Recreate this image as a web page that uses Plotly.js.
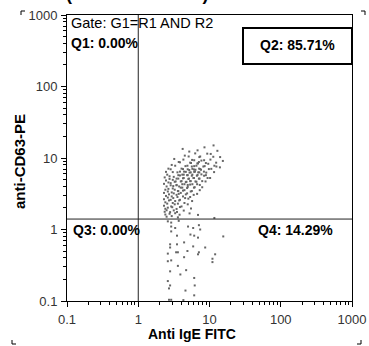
<!DOCTYPE html>
<html><head><meta charset="utf-8">
<script src="https://cdn.plot.ly/plotly-3.0.1.min.js"></script>
<style>html,body{margin:0;padding:0;background:#fff;}#plot{width:369px;height:346px;}</style>
</head><body><div id="plot"></div>
<script>
// Events above the horizontal gate (Q2)
const upperX = [11.4,4.2,6.8,8.5,5.2,9.3,12.9,4.5,6.3,7.4,10.4,14.1,
3.2,5.1,5.7,7.2,8.4,11.3,15.4,
3.7,4.3,5.5,6.1,6.9,7.7,9.6,10.3,12.4,
2.95,3.85,4.9,5.35,6.1,6.75,7.1,8.2,8.9,11.7,14.0,
2.65,3.3,4.25,4.6,5.2,5.65,6.05,6.55,7.15,7.6,8.55,9.8,12.5,
2.45,2.85,3.55,4.05,4.4,4.95,5.25,5.75,6.1,6.35,6.95,7.4,8.35,9.0,10.6,
2.55,3.05,3.65,3.85,4.35,4.65,4.95,5.45,5.75,6.25,6.65,7.2,7.7,8.9,11.6,
2.35,2.75,3.15,3.45,3.85,4.15,4.35,4.85,5.15,5.65,6.05,6.8,7.25,8.4,10.2,
2.45,2.75,3.05,3.35,3.65,4.05,4.25,4.75,5.05,5.45,5.95,6.35,7.1,7.9,9.4,
2.3,2.65,2.85,3.25,3.45,3.95,4.15,4.65,4.95,5.35,5.75,6.55,7.3,8.8,
2.5,2.85,3.1,3.45,3.75,4.15,4.45,4.95,5.35,6.05,6.7,7.9,
2.4,2.65,3.05,3.25,3.65,3.95,4.45,4.85,5.65,6.2,7.3,
2.3,2.6,2.95,3.15,3.6,3.95,4.25,4.85,5.45,6.7,
2.45,2.7,2.95,3.45,3.7,4.25,4.65,5.35,6.0,
2.3,2.6,2.85,3.1,3.55,3.85,4.55,5.05,
2.4,2.7,3.05,3.3,3.75,4.45,5.7,
2.3,2.55,2.9,3.25,3.6,4.05,4.95,
2.4,2.6,3.0,3.45,3.85,5.5,
2.35,2.5,2.8,3.15,3.5,4.35,
2.4,2.75,3.3,3.8,5.25,6.9,
2.5,2.95,3.6,11.7];
const upperY = [15.0,13.4,12.8,14.1,12.3,11.5,12.6,10.8,11.6,10.5,11.4,10.3,
9.7,10.5,9.4,10.3,9.3,10.4,9.1,
8.8,9.5,8.5,9.3,8.4,9.2,8.3,9.5,8.6,
8.0,8.7,7.8,8.6,7.7,8.4,8.8,7.6,8.5,7.8,7.4,
7.1,7.8,7.0,7.7,6.8,7.6,6.9,7.8,7.1,6.85,7.7,7.0,7.6,
6.4,6.95,6.3,7.1,6.45,6.95,6.25,7.05,6.4,6.85,6.3,7.0,6.45,6.25,7.05,
5.85,6.35,5.75,6.45,5.85,6.4,5.75,6.3,5.85,6.45,5.65,6.3,5.9,5.75,6.35,
5.35,5.55,5.45,5.15,5.7,5.85,5.25,5.75,5.15,5.65,5.25,5.8,5.15,5.65,5.25,
4.85,5.1,4.95,4.7,5.15,4.75,5.2,4.65,5.1,4.75,5.25,4.7,5.15,4.75,5.25,
4.35,4.55,4.45,4.65,4.2,4.7,4.3,4.6,4.2,4.75,4.3,4.65,4.2,4.7,
4.0,4.15,4.05,4.15,4.0,3.85,4.3,3.95,4.25,3.85,4.3,3.9,
3.6,3.7,3.75,3.6,3.45,3.85,3.55,3.8,3.45,3.9,3.55,
3.25,3.4,3.3,3.2,3.45,3.25,3.5,3.2,3.4,3.15,
2.95,3.1,2.9,3.05,3.15,2.9,3.1,2.85,3.05,
2.65,2.8,2.6,2.75,2.85,2.6,2.75,2.7,
2.4,2.55,2.35,2.5,2.55,2.35,2.5,
2.15,2.3,2.1,2.25,2.3,2.1,2.25,
1.95,2.02,2.05,1.94,2.06,1.97,
1.77,1.86,1.75,1.85,1.76,1.84,
1.62,1.66,1.69,1.61,1.68,1.6,
1.51,1.54,1.48,1.45];
// Events below the horizontal gate (Q4)
const lowerX = [2.6,2.9,3.7,2.9,3.3,5.0,5.9,7.1,7.4,2.9,3.5,5.4,6.1,6.9,15.6,
2.8,2.8,3.5,5.9,8.7,4.4,
2.6,3.4,3.6,6.9,7.1,12.0,
2.6,2.9,4.4,11.0,11.0,4.9,
3.6,4.7,2.8,3.9,
6.1,2.6,2.8,2.7,6.2,4.6,
6.1,2.7,2.9,4.3];
const lowerY = [1.3,1.25,1.32,1.1,1.05,1.1,1.05,1.15,1.0,0.94,0.82,0.85,0.82,0.77,0.8,
0.62,0.56,0.62,0.58,0.56,0.66,
0.46,0.48,0.48,0.45,0.48,0.45,
0.36,0.37,0.41,0.39,0.35,0.5,
0.31,0.27,0.26,0.235,
0.21,0.19,0.165,0.15,0.165,0.14,
0.12,0.104,0.104,0.103];
const gateX = 1;      // vertical quadrant gate
const gateY = 1.4;    // horizontal quadrant gate
const majorTicks = [0.1, 1, 10, 100, 1000];
const majorLabels = ['0.1', '1', '10', '100', '1000'];
const minorTicks = [0.2,0.3,0.4,0.5,0.6,0.7,0.8,0.9,2,3,4,5,6,7,8,9,20,30,40,50,60,70,80,90,200,300,400,500,600,700,800,900];
const quadLabels = ['Q1: 0.00%', 'Q2: 85.71%', 'Q3: 0.00%', 'Q4: 14.29%'];
const gateText = 'Gate: G1=R1 AND R2';

const L=67, R=352, T=15, B=301;
const px = x => (x-L)/(R-L);
const py = y => (B-y)/(B-T);

const marker = {symbol:'square', size:2, color:'#666', line:{width:0}};
const traces = [
  {x:upperX, y:upperY, mode:'markers', type:'scatter', marker:marker, hoverinfo:'skip'},
  {x:lowerX, y:lowerY, mode:'markers', type:'scatter', marker:marker, hoverinfo:'skip'}
];
const axisBase = {
  type:'log', range:[-1,3], showgrid:false, zeroline:false,
  showline:true, linecolor:'#000', linewidth:1, mirror:true,
  ticks:'outside', ticklen:5, tickwidth:1, tickcolor:'#000',
  tickvals:majorTicks, ticktext:majorLabels,
  tickfont:{family:'Liberation Sans, Arial', size:13, color:'#333'},
  minor:{tickvals:minorTicks, ticks:'outside', ticklen:3, tickcolor:'#000', tickwidth:1, showgrid:false}
};
const f = (s,b)=>({family:'Liberation Sans, Arial', size:s, color:'#000', weight: b?'bold':'normal'});
const layout = {
  width:369, height:346, margin:{l:L, r:369-R, t:T, b:346-B},
  paper_bgcolor:'#fff', plot_bgcolor:'#fff', showlegend:false,
  xaxis:Object.assign({}, axisBase, {ticklabelstandoff:1}),
  yaxis:Object.assign({}, axisBase, {ticklabelstandoff:1}),
  shapes:[
    {type:'line', xref:'x', yref:'paper', x0:gateX, x1:gateX, y0:0, y1:1, line:{color:'#222', width:1}},
    {type:'line', xref:'paper', yref:'y', x0:0, x1:1, y0:gateY, y1:gateY, line:{color:'#222', width:1}},
    {type:'rect', xref:'paper', yref:'paper', x0:px(243), x1:px(352), y0:py(64), y1:py(28), line:{color:'#000', width:2}},
    {type:'path', xref:'paper', yref:'paper', path:`M ${px(21)} ${py(15)} L ${px(21)} ${py(11)} L ${px(25)} ${py(11)}`, line:{color:'#000', width:1}},
    {type:'path', xref:'paper', yref:'paper', path:`M ${px(361)} ${py(11)} L ${px(365)} ${py(11)} L ${px(365)} ${py(15)}`, line:{color:'#000', width:1}},
    {type:'path', xref:'paper', yref:'paper', path:`M ${px(12)} ${py(340)} L ${px(12)} ${py(344)} L ${px(16)} ${py(344)}`, line:{color:'#000', width:1}},
    {type:'path', xref:'paper', yref:'paper', path:`M ${px(357)} ${py(344)} L ${px(361)} ${py(344)} L ${px(361)} ${py(340)}`, line:{color:'#000', width:1}}
  ],
  annotations:[
    {text:'(anti-FcεRI mAb)', xref:'paper', yref:'paper', x:px(137), y:py(6), xanchor:'center', yanchor:'bottom', showarrow:false, font:f(18,true)},
    {text:gateText, xref:'paper', yref:'paper', x:px(69), y:py(23), xanchor:'left', yanchor:'middle', showarrow:false, font:f(14.5,false)},
    {text:quadLabels[0], xref:'paper', yref:'paper', x:px(69), y:py(43), xanchor:'left', yanchor:'middle', showarrow:false, font:f(14,true)},
    {text:quadLabels[1], xref:'paper', yref:'paper', x:px(297), y:py(45), xanchor:'center', yanchor:'middle', showarrow:false, font:f(14,true)},
    {text:quadLabels[2], xref:'paper', yref:'paper', x:px(71), y:py(230), xanchor:'left', yanchor:'middle', showarrow:false, font:f(14,true)},
    {text:quadLabels[3], xref:'paper', yref:'paper', x:px(335), y:py(230), xanchor:'right', yanchor:'middle', showarrow:false, font:f(14,true)},
    {text:'Anti IgE FITC', xref:'paper', yref:'paper', x:px(192), y:py(334), xanchor:'center', yanchor:'middle', showarrow:false, font:f(14,true)},
    {text:'anti-CD63-PE', xref:'paper', yref:'paper', x:px(19), y:py(162), xanchor:'center', yanchor:'middle', textangle:-90, showarrow:false, font:f(15,true)}
  ]
};
Plotly.newPlot('plot', traces, layout, {staticPlot:true, displayModeBar:false});
</script></body></html>
